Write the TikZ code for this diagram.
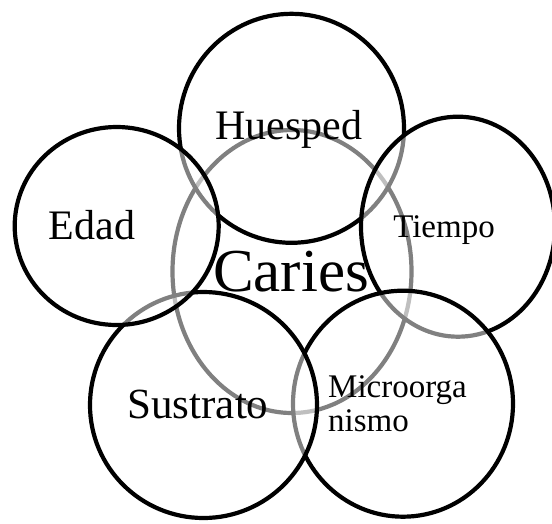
\documentclass[tikz,border=0pt]{standalone}
\usepackage{fontspec}
\setmainfont{Liberation Serif}
\usetikzlibrary{shapes.geometric}
\tikzset{
    % Circles
    factor/.style={
        ellipse,
        draw=black,
        line width=4.2pt,
        fill=white,
        fill opacity=0.5,
        inner sep=0pt
    },
    % Labels
    factortext/.style={
        inner sep=0pt,
        text=black
    }
}

\begin{document}
\begin{tikzpicture}[x=1pt, y=-1pt]

    \useasboundingbox (0,0) rectangle (552,523);

    % Circles (later ones lie over earlier ones)
    \node[factor, minimum width=239pt, minimum height=283pt] (caries) at (292,271.5) {};
    \node[factor, minimum width=225pt, minimum height=229pt] (huesped) at (291.5,128.3) {};
    \node[factor, minimum width=194pt, minimum height=220pt] (tiempo) at (458,226.7) {};
    \node[factor, minimum width=220pt, minimum height=226pt] (micro) at (403,403.7) {};
    \node[factor, minimum width=227pt, minimum height=226pt] (sustrato) at (203.5,405) {};
    \node[factor, minimum width=204pt, minimum height=198pt] (edad) at (116.7,226) {};

    % Labels
    \node[factortext, anchor=base, font=\fontsize{42}{42}\selectfont] (huespedtext) at (289,139) {Huesped};
    \node[factortext, anchor=base, font=\fontsize{42}{42}\selectfont] (edadtext) at (92,239) {Edad};
    \node[factortext, anchor=base, font=\fontsize{33}{33}\selectfont] (tiempotext) at (444,237) {Tiempo};
    \node[factortext, anchor=base, font=\fontsize{61}{61}\selectfont] (cariestext) at (291,291.7) {Caries};
    \node[factortext, anchor=base, font=\fontsize{43}{43}\selectfont] (sustratotext) at (198,418) {Sustrato};
    \node[factortext, anchor=north west, align=left, font=\fontsize{33}{34}\selectfont] (microtext) at (328,375) {Microorga\\nismo};

\end{tikzpicture}
\end{document}
